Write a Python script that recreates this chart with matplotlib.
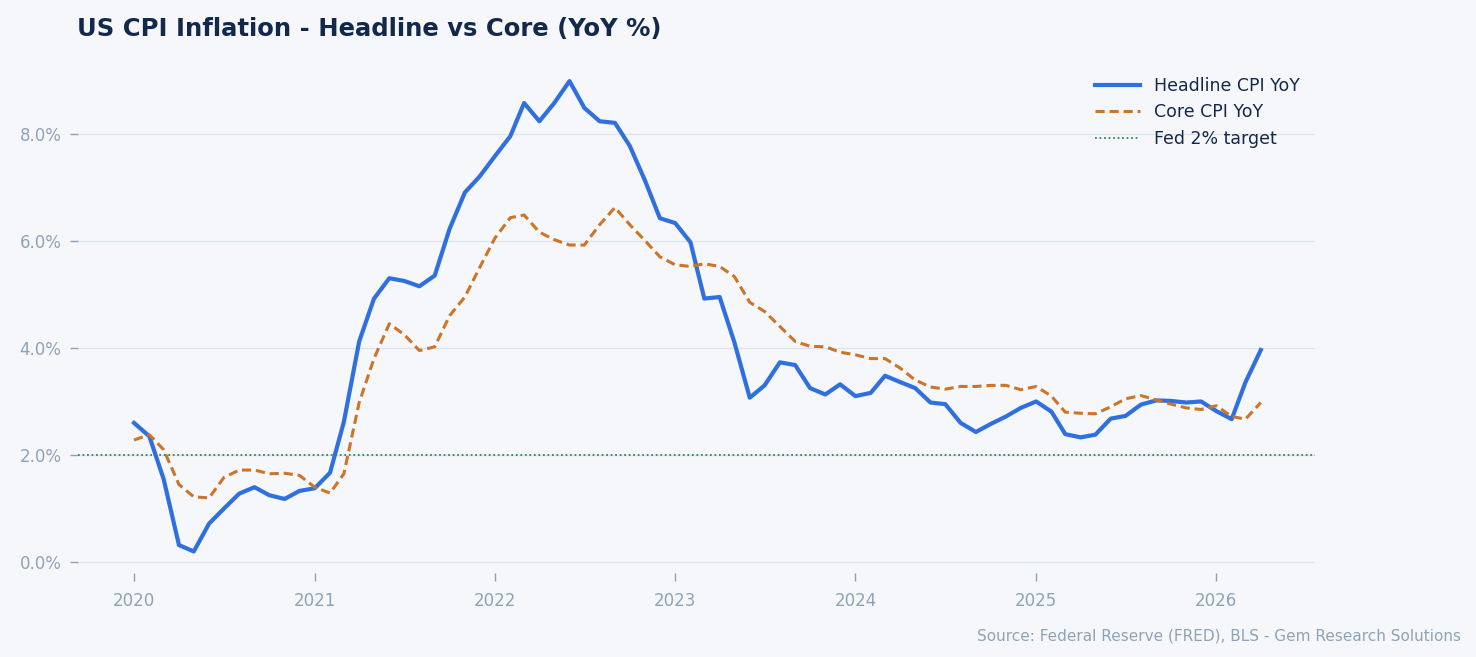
import matplotlib.pyplot as plt
import matplotlib.ticker as mtick
import pandas as pd

headline = [2.6, 2.35, 1.55, 0.32, 0.2, 0.72, 1.0, 1.28, 1.4, 1.25, 1.18, 1.33,
            1.38, 1.67, 2.62, 4.12, 4.92, 5.3, 5.25, 5.15, 5.35, 6.22, 6.9, 7.2,
            7.58, 7.95, 8.57, 8.23, 8.57, 8.98, 8.48, 8.23, 8.2, 7.77, 7.12, 6.42,
            6.33, 5.97, 4.92, 4.95, 4.1, 3.07, 3.3, 3.73, 3.68, 3.25, 3.13, 3.32,
            3.1, 3.16, 3.48, 3.36, 3.25, 2.98, 2.95, 2.6, 2.43, 2.58, 2.72, 2.88,
            3.0, 2.81, 2.39, 2.33, 2.38, 2.68, 2.73, 2.94, 3.02, 3.01, 2.98, 3.0,
            2.82, 2.67, 3.36, 3.96]
core = [2.28, 2.38, 2.1, 1.45, 1.22, 1.2, 1.58, 1.72, 1.72, 1.65, 1.66, 1.62,
        1.4, 1.29, 1.65, 2.98, 3.8, 4.45, 4.25, 3.95, 4.02, 4.6, 4.95, 5.5,
        6.05, 6.43, 6.48, 6.16, 6.02, 5.92, 5.92, 6.3, 6.62, 6.3, 6.0, 5.7,
        5.55, 5.52, 5.57, 5.52, 5.33, 4.85, 4.68, 4.4, 4.12, 4.03, 4.02, 3.92,
        3.87, 3.8, 3.8, 3.62, 3.4, 3.27, 3.23, 3.28, 3.28, 3.3, 3.3, 3.22,
        3.28, 3.1, 2.8, 2.78, 2.77, 2.9, 3.05, 3.11, 3.03, 2.95, 2.88, 2.85,
        2.92, 2.72, 2.67, 2.98]
dates = pd.date_range("2020-01-01", periods=len(headline), freq="MS")
fed_target = 2.0

bg = "#f5f7fb"
fig = plt.figure(figsize=(14.76, 6.57), dpi=100, facecolor=bg)
ax = fig.add_axes([0.053, 0.128, 0.838, 0.791], facecolor=bg)

ax.plot(dates, headline, color="#2f6fe0", lw=3, label="Headline CPI YoY")
ax.plot(dates, core, color="#cc7428", lw=2.2, ls=(0, (3, 1.6)), label="Core CPI YoY")
ax.axhline(fed_target, color="#1e9456", lw=1.3, ls=(0, (1, 1.5)), label="Fed 2% target")

ax.set_ylim(-0.2, 9.5)
ax.set_xlim(pd.Timestamp("2019-09-10"), pd.Timestamp("2026-07-20"))
ax.yaxis.set_major_formatter(mtick.FuncFormatter(lambda v, p: f"{v:.1f}%"))
ax.set_yticks([0, 2, 4, 6, 8])
ax.set_xticks([pd.Timestamp(f"{y}-01-01") for y in range(2020, 2027)])
ax.set_xticklabels([str(y) for y in range(2020, 2027)])
ax.grid(axis="y", color="#dfe4ec", lw=1)
ax.set_axisbelow(True)
for s in ax.spines.values():
    s.set_visible(False)
ax.tick_params(colors="#8fa3b8", labelsize=12, length=6, width=1, pad=8)
ax.tick_params(axis="y", pad=6)

leg = ax.legend(loc="upper right", frameon=False, fontsize=12.5, handlelength=2.6,
                bbox_to_anchor=(1.0, 0.985))
for t in leg.get_texts():
    t.set_color("#13294b")

fig.text(0.052, 0.945, "US CPI Inflation - Headline vs Core (YoY %)", fontsize=17.5,
         fontweight="bold", color="#13294b")
fig.text(0.99, 0.025, "Source: Federal Reserve (FRED), BLS - Gem Research Solutions",
         ha="right", fontsize=11, color="#8fa3b8")

fig.savefig("out.png", dpi=100, facecolor=bg)
